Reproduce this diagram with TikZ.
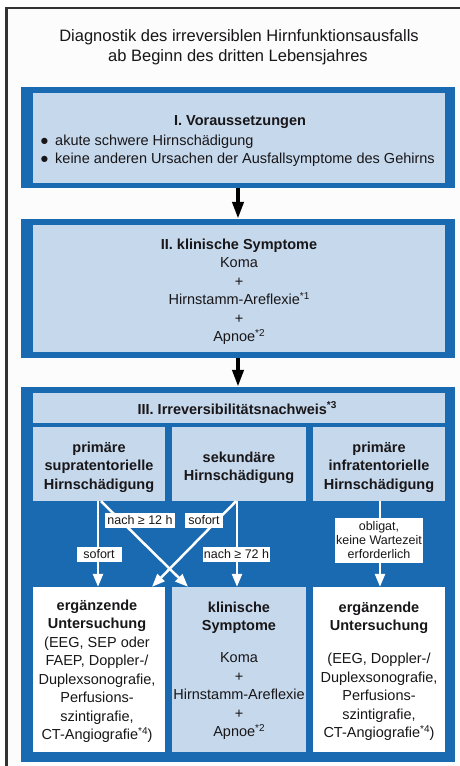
\documentclass[tikz,border=0pt]{standalone}
\usepackage{fontspec}
\setmainfont{Liberation Sans}
\usetikzlibrary{arrows.meta}
\definecolor{bl}{RGB}{26,106,178}
\definecolor{lb}{RGB}{198,216,236}
\definecolor{tx}{RGB}{24,22,24}
\definecolor{bgc}{RGB}{252,252,252}
\definecolor{fr}{RGB}{51,51,51}
\newcommand\fsz[2]{\fontsize{#1}{#2}\selectfont}
\newcommand\sups[1]{{\fsz{10}{10}\raisebox{5.5pt}{#1}}}
\newcommand\fst{\rule{0pt}{12pt}}
\newcommand\bul{\makebox[15pt][l]{\fsz{14.5}{14.5}●}}
\begin{document}
\begin{tikzpicture}[x=1pt,y=-1pt,
  bluebox/.style={fill=bl, draw=none, inner sep=0pt},
  lightbox/.style={fill=lb, draw=none, inner sep=0pt},
  whitebox/.style={fill=white, draw=none, inner sep=0pt},
  txt/.style={inner sep=0pt, text=tx, align=center, font=\fsz{14.5}{18.5}},
  btxt/.style={txt, font=\fsz{14.5}{18.5}\bfseries},
  lab/.style={fill=white, inner sep=0pt, text=tx, align=center, font=\fsz{12.5}{14}, minimum height=15pt},
  blackarrow/.style={draw=black, line width=4pt, -{Triangle[length=17pt,width=11pt]}},
  whitearrow/.style={draw=white, line width=2.5pt, -{Triangle[length=13pt,width=10pt]}},
]
\useasboundingbox (0,0) rectangle (460,766);
\fill[white] (0,0) rectangle (460,766);
\fill[bgc] (6.5,8) rectangle (460,766);
\draw[fr, line width=3pt] (6.5,766) -- (6.5,6.8);
\draw[fr, line width=2.4pt] (5,8) -- (460,8);

% title
\node[txt, anchor=base, font=\fsz{16.5}{20}] (T1) at (239,41) {Diagnostik des irreversiblen Hirnfunktionsausfalls};
\node[txt, anchor=base, font=\fsz{16.5}{20}] (T2) at (238,61) {ab Beginn des dritten Lebensjahres};

% box I
\node[bluebox, minimum width=434pt, minimum height=101pt] (B1) at (238,137.5) {};
\node[lightbox, minimum width=412pt, minimum height=90pt] (B1i) at (239,138) {};
\node[btxt, anchor=base] (B1t) at (240,125) {I. Voraussetzungen};
\node[txt, anchor=base west] (B1a) at (40,145) {\bul akute schwere Hirnschädigung};
\node[txt, anchor=base west] (B1b) at (40,163) {\bul keine anderen Ursachen der Ausfallsymptome des Gehirns};

% box II
\node[bluebox, minimum width=434pt, minimum height=139pt] (B2) at (238,288.5) {};
\node[lightbox, minimum width=412pt, minimum height=127pt] (B2i) at (239,288.5) {};
\node[txt, anchor=north] (B2t) at (239,237) {\fst\textbf{II. klinische Symptome}\\Koma\\+\\Hirnstamm-Areflexie\sups{*1}\\+\\Apnoe\sups{*2}};

% box III
\node[bluebox, minimum width=434pt, minimum height=375pt] (B3) at (238,574.5) {};
\node[lightbox, minimum width=412pt, minimum height=30pt] (B3i) at (239,408) {};
\node[btxt, anchor=base] (B3t) at (237,414) {III. Irreversibilitätsnachweis\sups{*3}};

\node[lightbox, minimum width=132pt, minimum height=74pt] (P1) at (99,464) {};
\node[lightbox, minimum width=134pt, minimum height=74pt] (P2) at (239,464) {};
\node[lightbox, minimum width=132pt, minimum height=74pt] (P3) at (379,464) {};
\node[btxt, anchor=north] (P1t) at (99,440) {\fst primäre\\supratentorielle\\Hirnschädigung};
\node[btxt, anchor=north] (P2t) at (239,450) {\fst sekundäre\\Hirnschädigung};
\node[btxt, anchor=north] (P3t) at (379,440) {\fst primäre\\infratentorielle\\Hirnschädigung};

\node[whitebox, minimum width=132pt, minimum height=165pt] (E1) at (99,669.5) {};
\node[lightbox, minimum width=134pt, minimum height=165pt] (K) at (239,669.5) {};
\node[whitebox, minimum width=132pt, minimum height=165pt] (E2) at (379,669.5) {};
\node[txt, anchor=north] (E1t) at (97,598) {\fst\textbf{ergänzende}\\\textbf{Untersuchung}\\(EEG, SEP oder\\FAEP, Doppler-/\\Duplexsonografie,\\Perfusions-\\szintigrafie,\\CT-Angiografie\sups{*4})};
\node[txt, anchor=north] (Kt) at (239,600) {\fst\textbf{klinische}\\\textbf{Symptome}\\[13.5pt]Koma\\+\\Hirnstamm-Areflexie\\+\\Apnoe\sups{*2}};
\node[txt, anchor=north] (E2t) at (379,600) {\fst\textbf{ergänzende}\\\textbf{Untersuchung}\\[14.5pt](EEG, Doppler-/\\Duplexsonografie,\\Perfusions-\\szintigrafie,\\CT-Angiografie\sups{*4})};

% arrows
\draw[blackarrow] (B1.south) -- (B2.north);
\draw[blackarrow] (B2.south) -- (B3.north);
\draw[whitearrow] ([xshift=-1pt]P1.south) -- ([xshift=-1pt]E1.north);
\draw[whitearrow] ([xshift=2pt]P1.south) -- ([xshift=-51pt]K.north);
\draw[whitearrow] ([xshift=-3pt]P2.south) -- ([xshift=53pt]E1.north);
\draw[whitearrow] ([xshift=-2pt]P2.south) -- ([xshift=-2pt]K.north);
\draw[whitearrow] ([xshift=1pt]P3.south) -- ([xshift=1pt]E2.north);

% labels
\node[lab, minimum width=70pt] (L1) at (140,520.5) {nach ≥ 12 h};
\node[lab, minimum width=38pt] (L2) at (204,520.5) {sofort};
\node[lab, minimum width=45pt] (L3) at (99,554.5) {sofort};
\node[lab, minimum width=67pt] (L4) at (236.5,554.5) {nach ≥ 72 h};
\node[lab, minimum width=88pt, minimum height=45pt] (L5) at (379,540.5) {obligat,\\keine Wartezeit\\erforderlich};
\end{tikzpicture}
\end{document}
